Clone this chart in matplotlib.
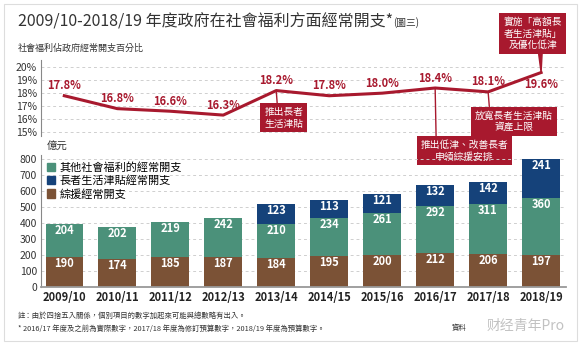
import matplotlib
matplotlib.use("Agg")
import matplotlib.pyplot as plt
from matplotlib.patches import Patch, Rectangle

plt.rcParams['font.family'] = ['Noto Sans CJK TC', 'DejaVu Sans']

years = ["2009/10", "2010/11", "2011/12", "2012/13", "2013/14",
         "2014/15", "2015/16", "2016/17", "2017/18", "2018/19"]
pct = [17.8, 16.8, 16.6, 16.3, 18.2, 17.8, 18.0, 18.4, 18.1, 19.6]
cssa = [190, 174, 185, 187, 184, 195, 200, 212, 206, 197]
oala = [0, 0, 0, 0, 123, 113, 121, 132, 142, 241]
other = [204, 202, 219, 242, 210, 234, 261, 292, 311, 360]

RED = "#a8192e"
BROWN = "#7b5236"
GREEN = "#4b917a"
NAVY = "#15427a"
GRID = "#cfcfcf"

W, H = 583, 346
fig = plt.figure(figsize=(W / 100, H / 100), dpi=100)


def fx(px):
    return px / W


def fy(py):
    return 1 - py / H


# card border
fig.patches.append(Rectangle((fx(4), fy(341)), fx(573), 337 / H, transform=fig.transFigure,
                             fill=False, edgecolor="#dddddd", lw=0.8))

fig.text(fx(18), fy(22), "2009/10-2018/19 年度政府在社會福利方面經常開支*",
         fontsize=11.5, color="#333333", va="center")
fig.text(fx(393), fy(23), "(圖三)", fontsize=7, color="#333333", va="center")
fig.text(fx(18), fy(48), "社會福利佔政府經常開支百分比", fontsize=6.5, color="#333333", va="center")

xlim = (-0.44, 9.47)

# ---- percentage line
ax1 = fig.add_axes([fx(41), fy(136), fx(525), 76 / H])
x = list(range(len(years)))
ax1.plot(x, pct, color=RED, lw=2.2, solid_joinstyle="round", zorder=3)
ax1.set_xlim(*xlim)
ax1.set_ylim(14.68, 20.57)
ax1.set_yticks(range(15, 21))
ax1.set_yticklabels([f"{v}%" for v in range(15, 21)])
ax1.set_xticks([])
ax1.tick_params(axis="y", length=0, labelsize=7.5, colors="#333333", pad=3)
for s in ["top", "right", "bottom"]:
    ax1.spines[s].set_visible(False)
ax1.spines["left"].set_color("#888888")
ax1.grid(axis="y", color=GRID, lw=0.7, ls=(0, (3, 3)))
ax1.set_facecolor("none")

lab_off = [10, 10, 10, 10, 10, 10, 10, 10, 10, -12]
for i, v in enumerate(pct):
    ax1.annotate(f"{v:.1f}%", (i, v), xytext=(0, lab_off[i] * 0.72), textcoords="offset points",
                 ha="center", va="center", fontsize=8, fontweight="bold", color=RED,
                 annotation_clip=False)

box = dict(boxstyle="square,pad=0.4", fc=RED, ec="none")
notes = [
    (4, "推出長者\n生活津貼", (5.4, -19.6), (0.34, 1.0), "-"),
    (7, "推出低津、改善長者\n申領綜援安排", (21.2, -45.2), (0.176, 1.0), "-"),
    (8, "放寬長者生活津貼\n資產上限", (18.5, -21.2), (0.19, 1.0), "-"),
    (9, "實施「高額長\n者生活津貼」\n及優化低津", (-6.1, 28.0), (0.63, 0.0), "wedge,tail_width=0.35"),
]
for i, txt, off, rp, style in notes:
    ax1.annotate(txt, (i, pct[i]), xytext=off, textcoords="offset points",
                 ha="center", va="center", fontsize=7, color="white", linespacing=1.2,
                 bbox=box, annotation_clip=False, zorder=5,
                 arrowprops=dict(arrowstyle=style, color=RED, lw=1.0, relpos=rp,
                                 shrinkA=0, shrinkB=0))

# ---- stacked bars
ax2 = fig.add_axes([fx(41), fy(287), fx(525), 132 / H])
bw = 0.71
ax2.bar(x, cssa, width=bw, color=BROWN, zorder=2)
ax2.bar(x, other, width=bw, bottom=cssa, color=GREEN, zorder=2)
mid = [a + b for a, b in zip(cssa, other)]
ax2.bar(x, oala, width=bw, bottom=mid, color=NAVY, zorder=2)
ax2.set_xlim(*xlim)
ax2.set_ylim(0, 825)
ax2.set_yticks(range(0, 801, 100))
ax2.set_xticks(x)
ax2.set_xticklabels(years, fontweight="bold", fontsize=8, color="#222222")
ax2.tick_params(axis="y", length=0, labelsize=7.5, colors="#333333", pad=3)
ax2.tick_params(axis="x", length=0, pad=3)
for s in ["top", "right"]:
    ax2.spines[s].set_visible(False)
ax2.spines["left"].set_color("#888888")
ax2.spines["bottom"].set_color("#999999")
ax2.spines["bottom"].set_linewidth(1.3)
ax2.grid(axis="y", color=GRID, lw=0.7, ls=(0, (3, 3)), zorder=0)
ax2.set_facecolor("none")

for i in x:
    tops = [cssa[i], mid[i], mid[i] + oala[i]]
    vals = [cssa[i], other[i], oala[i]]
    for t, v in zip(tops, vals):
        if v:
            ax2.annotate(str(v), (i, t), xytext=(0, -6.5 * 0.72), textcoords="offset points",
                         ha="center", va="center", fontsize=8, fontweight="bold", color="white")

handles = [Patch(color=GREEN, label="其他社會福利的經常開支"),
           Patch(color=NAVY, label="長者生活津貼經常開支"),
           Patch(color=BROWN, label="綜援經常開支")]
ax2.legend(handles=handles, loc="upper left", bbox_to_anchor=(0.0, 0.99), frameon=False,
           fontsize=8, handlelength=0.8, handleheight=0.8, handletextpad=0.4,
           labelspacing=0.25, borderaxespad=0.3, borderpad=0.2)

fig.text(fx(47), fy(147), "億元", fontsize=7.5, color="#333333", va="center")

fig.text(fx(18), fy(316), "註：由於四捨五入關係，個別項目的數字加起來可能與總數略有出入。",
         fontsize=5.3, color="#333333", va="center")
fig.text(fx(18), fy(329), "* 2016/17 年度及之前為實際數字，2017/18 年度為修訂預算數字，2018/19 年度為預算數字。",
         fontsize=5.3, color="#333333", va="center")
fig.text(fx(452), fy(328), "資料", fontsize=5.3, color="#333333", va="center")
fig.text(fx(565), fy(326), "财经青年Pro", fontsize=10, color="#bbbbbb", ha="right", va="center",
         alpha=0.9)

fig.savefig("out.png", dpi=100, facecolor="white")
